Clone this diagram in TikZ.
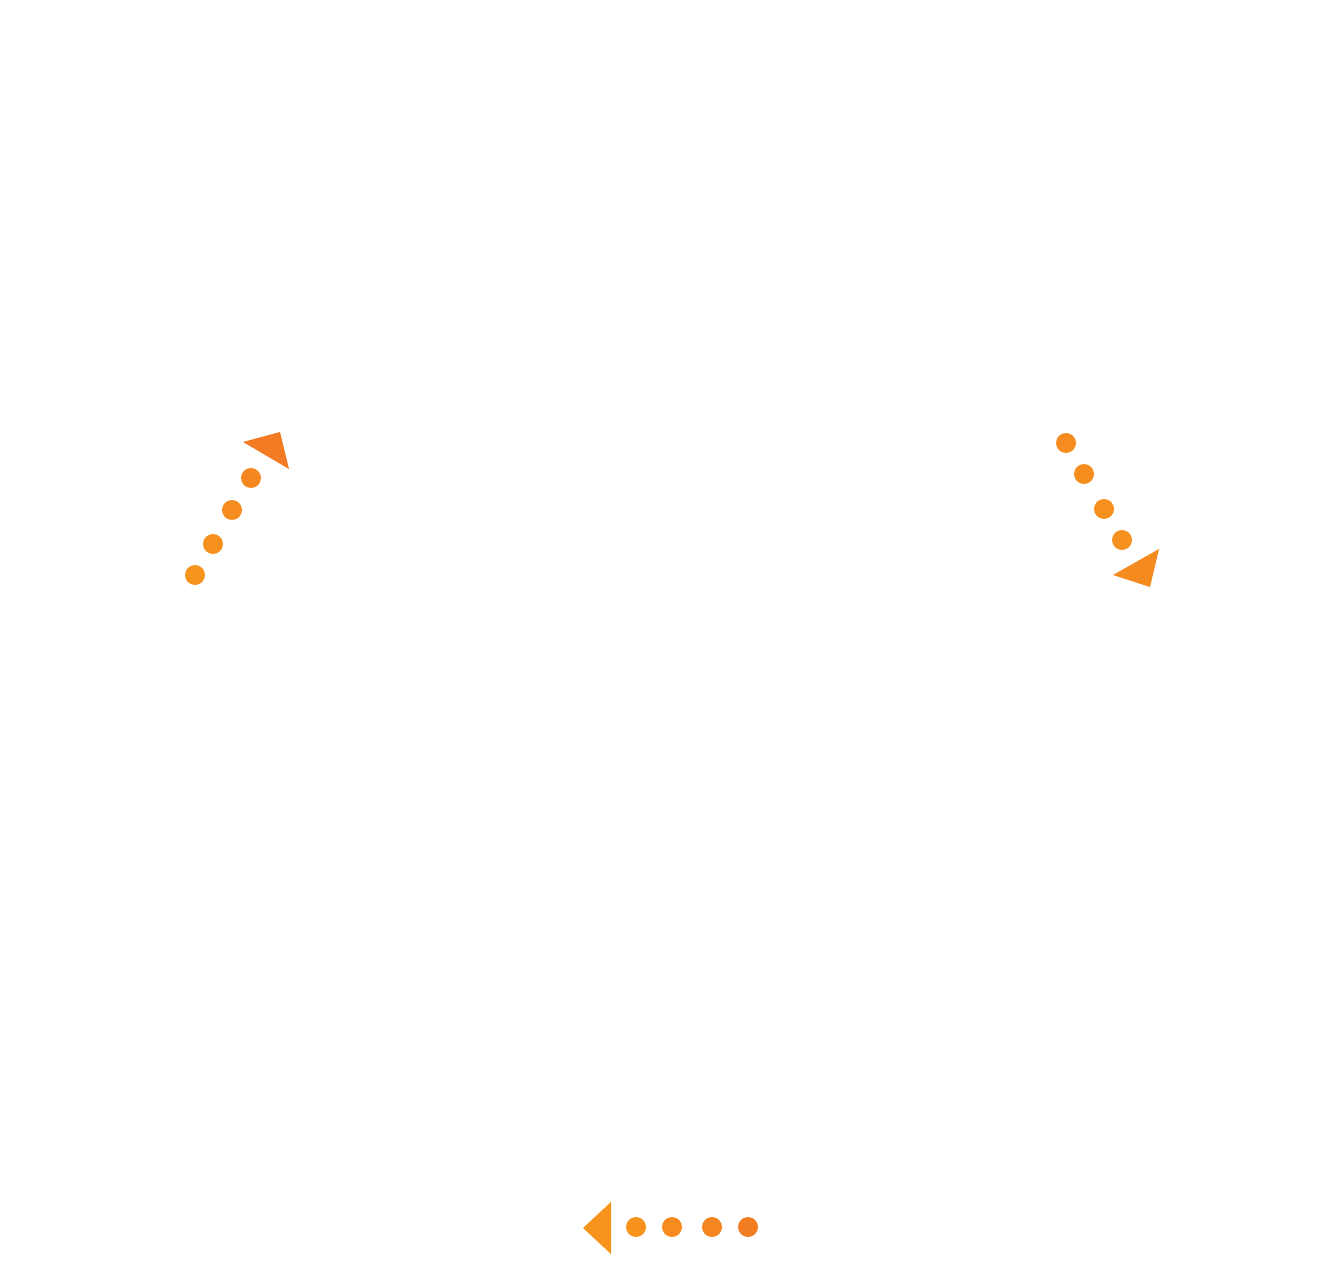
\documentclass[tikz,border=0pt]{standalone}
\usepackage{tikz}
\usepackage{xcolor}
\definecolor{Arrowlight}{HTML}{F7941D}
\definecolor{Arrowdark}{HTML}{F37B23}
\tikzstyle{dot} = [
    fill=Arrowlight,
    draw=none
]
\tikzstyle{tip} = [
    fill=Arrowdark,
    draw=none
]
\begin{document}
\begin{tikzpicture}[x=0.02cm, y=-0.02cm]
    \useasboundingbox (0,0) rectangle (1340,1280);
    % Left arrow, going up
    \foreach \x/\y/\c in {195/575/100, 213/544/85, 232/510/70, 251/478/50}
        \fill [dot, fill=Arrowlight!\c!Arrowdark] (\x,\y) circle (10);
    \fill [tip] (243,442) -- (280,432) -- (289,469) -- cycle;
    % Right arrow, going down
    \foreach \x/\y/\c in {1066/443/70, 1084/474/75, 1104/509/80, 1122/540/85}
        \fill [dot, fill=Arrowlight!\c!Arrowdark] (\x,\y) circle (10);
    \fill [tip, fill=Arrowlight!60!Arrowdark] (1113,575) -- (1159,549) -- (1150,587) -- cycle;
    % Bottom arrow, going left
    \foreach \x/\c in {636/95, 672/65, 712/40, 748/10}
        \fill [dot, fill=Arrowlight!\c!Arrowdark] (\x,1227) circle (10);
    \fill [tip, fill=Arrowlight] (583,1228) -- (611,1202) -- (611,1254) -- cycle;
\end{tikzpicture}
\end{document}
